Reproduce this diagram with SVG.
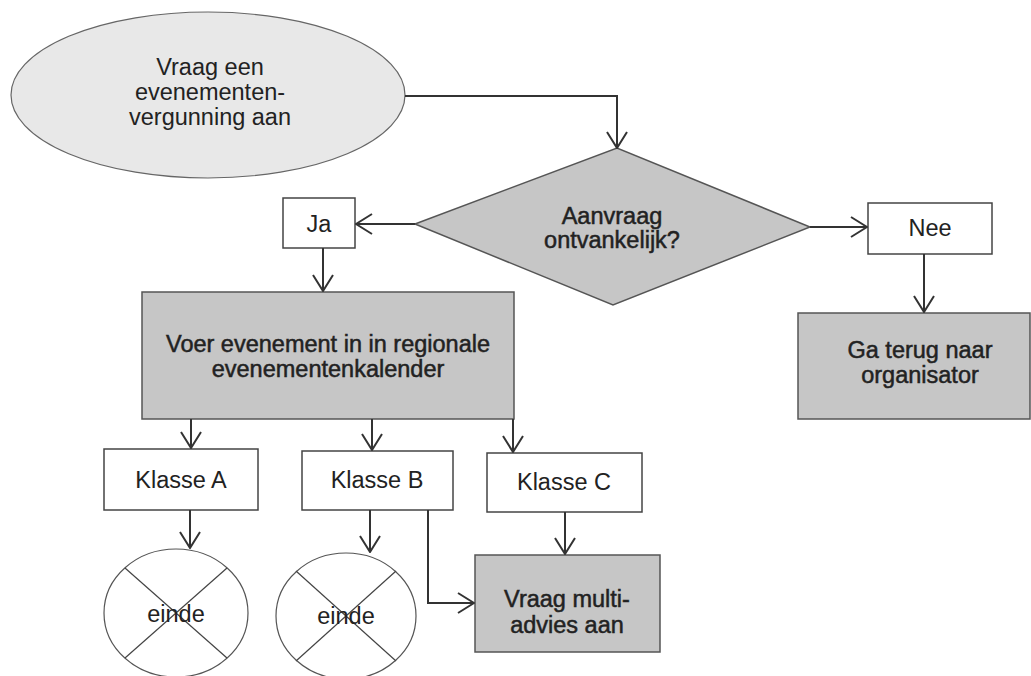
<svg xmlns="http://www.w3.org/2000/svg" width="1031" height="676" viewBox="0 0 1031 676">
  <defs>
    <marker id="arr" viewBox="0 0 18 22" refX="17" refY="11" markerWidth="18" markerHeight="22" markerUnits="userSpaceOnUse" orient="auto">
      <path d="M1,1 L17,11 L1,21" fill="none" stroke="#333" stroke-width="2"/>
    </marker>
  </defs>
  <style>
    .lbl { font-family: "Liberation Sans", Arial, sans-serif; font-size: 23.5px; fill: #222; text-anchor: middle; }
    .b { stroke: #222; stroke-width: 0.5; }
    .box { fill: #ffffff; stroke: #444; stroke-width: 1.5; }
    .grey { fill: #c6c6c6; stroke: #555; stroke-width: 1.5; }
    .light { fill: #e8e8e8; stroke: #666; stroke-width: 1.2; }
    .end { fill: #ffffff; stroke: #555; stroke-width: 1.2; }
    .cross { stroke: #444; stroke-width: 1.2; }
    .conn { fill: none; stroke: #333; stroke-width: 2; marker-end: url(#arr); }
  </style>
  <rect width="1031" height="676" fill="#ffffff"/>

  <g id="start">
    <ellipse class="light" cx="208" cy="95" rx="197" ry="83"/>
    <text class="lbl" x="210" y="75">Vraag een</text>
    <text class="lbl" x="210" y="100">evenementen-</text>
    <text class="lbl" x="210" y="125">vergunning aan</text>
  </g>

  <g id="decision">
    <polygon class="grey" points="415,224 617,148 810,227 613,305"/>
    <text class="lbl b" x="612" y="224">Aanvraag</text>
    <text class="lbl b" x="612" y="248">ontvankelijk?</text>
  </g>

  <g id="ja">
    <rect class="box" x="283" y="198" width="72" height="50"/>
    <text class="lbl" x="319" y="232">Ja</text>
  </g>

  <g id="nee">
    <rect class="box" x="868" y="203" width="124" height="51"/>
    <text class="lbl" x="930" y="236">Nee</text>
  </g>

  <g id="terug">
    <rect class="grey" x="798" y="313" width="232" height="106"/>
    <text class="lbl b" x="920" y="358">Ga terug naar</text>
    <text class="lbl b" x="920" y="383">organisator</text>
  </g>

  <g id="kalender">
    <rect class="grey" x="142" y="292" width="372" height="127"/>
    <text class="lbl b" x="328" y="352">Voer evenement in in regionale</text>
    <text class="lbl b" x="328" y="377">evenementenkalender</text>
  </g>

  <g id="klasseA">
    <rect class="box" x="104" y="449" width="154" height="61"/>
    <text class="lbl" x="181" y="488">Klasse A</text>
  </g>

  <g id="klasseB">
    <rect class="box" x="302" y="451" width="151" height="59"/>
    <text class="lbl" x="377" y="488">Klasse B</text>
  </g>

  <g id="klasseC">
    <rect class="box" x="487" y="453" width="155" height="59"/>
    <text class="lbl" x="564" y="490">Klasse C</text>
  </g>

  <g id="eindeA">
    <ellipse class="end" cx="176" cy="613" rx="72" ry="64"/>
    <line class="cross" x1="125" y1="568" x2="227" y2="658"/>
    <line class="cross" x1="227" y1="568" x2="125" y2="658"/>
    <text class="lbl" x="176" y="622">einde</text>
  </g>

  <g id="eindeB">
    <ellipse class="end" cx="346" cy="616" rx="70" ry="63"/>
    <line class="cross" x1="296" y1="571" x2="396" y2="661"/>
    <line class="cross" x1="396" y1="571" x2="296" y2="661"/>
    <text class="lbl" x="346" y="624">einde</text>
  </g>

  <g id="multi">
    <rect class="grey" x="475" y="555" width="185" height="97"/>
    <text class="lbl b" x="567" y="607">Vraag multi-</text>
    <text class="lbl b" x="567" y="633">advies aan</text>
  </g>

  <g id="connectors">
    <path class="conn" d="M405,96 H617 V148"/>
    <path class="conn" d="M415,224 H356"/>
    <path class="conn" d="M810,227 H867"/>
    <path class="conn" d="M924,254 V312"/>
    <path class="conn" d="M323,248 V291"/>
    <path class="conn" d="M191,419 V448"/>
    <path class="conn" d="M372,419 V450"/>
    <path class="conn" d="M513,419 V452"/>
    <path class="conn" d="M190,510 V548"/>
    <path class="conn" d="M370,510 V552"/>
    <path class="conn" d="M428,510 V603 H474"/>
    <path class="conn" d="M565,512 V554"/>
  </g>
</svg>
